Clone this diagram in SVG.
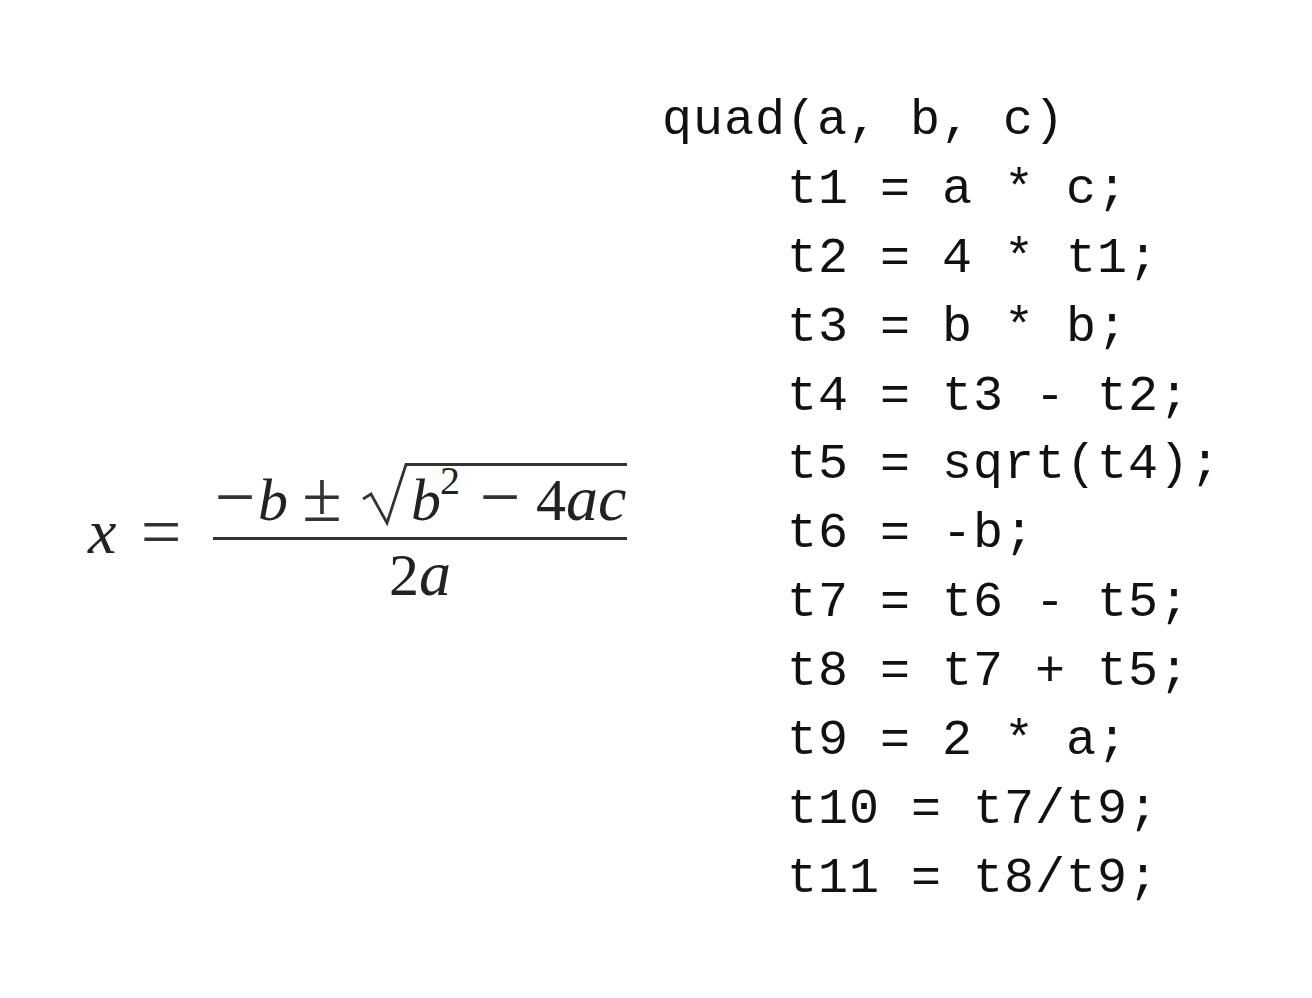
<svg xmlns="http://www.w3.org/2000/svg" width="1312" height="998" viewBox="0 0 1312 998">
<style>
.m{font-family:"Liberation Serif","DejaVu Serif",serif;font-size:60px;fill:#222}
.o{font-family:"Liberation Serif","DejaVu Serif",serif;font-size:72px;fill:#333}
.i{font-style:italic}
.c{font-family:"Liberation Mono","DejaVu Sans Mono",monospace;font-size:50px;letter-spacing:1px;fill:#111}
.r{fill:none;stroke:#333}
</style>
<rect width="1312" height="998" fill="#fff"/>
<g id="formula">
<text class="m i" x="88" y="553" style="font-size:64px">x</text>
<text class="o" x="161" y="556" text-anchor="middle">=</text>
<line class="r" x1="213" y1="538.5" x2="627" y2="538.5" stroke-width="3"/>
<text class="o" x="235" y="521" text-anchor="middle">−</text>
<text class="m i" x="258" y="520">b</text>
<text class="o" x="322" y="521" text-anchor="middle">±</text>
<path class="r" d="M363 499 L371 494 L387 523 L406 464.5 L627 464.5" stroke-width="2.8" stroke-linejoin="miter"/>
<text class="m i" x="411" y="520">b</text>
<text class="m" x="440" y="494" style="font-size:40px">2</text>
<text class="o" x="500" y="521" text-anchor="middle">−</text>
<text class="m" x="536" y="520">4<tspan class="i" style="font-size:64px">ac</tspan></text>
<text class="m" x="420" y="595" text-anchor="middle">2<tspan class="i" style="font-size:64px">a</tspan></text>
</g>
<g id="code">
<text class="c" x="662" y="134">quad(a, b, c)</text>
<text class="c" x="787" y="203">t1 = a * c;</text>
<text class="c" x="787" y="272">t2 = 4 * t1;</text>
<text class="c" x="787" y="341">t3 = b * b;</text>
<text class="c" x="787" y="410">t4 = t3 - t2;</text>
<text class="c" x="787" y="478">t5 = sqrt(t4);</text>
<text class="c" x="787" y="547">t6 = -b;</text>
<text class="c" x="787" y="616">t7 = t6 - t5;</text>
<text class="c" x="787" y="685">t8 = t7 + t5;</text>
<text class="c" x="787" y="754">t9 = 2 * a;</text>
<text class="c" x="787" y="823">t10 = t7/t9;</text>
<text class="c" x="787" y="892">t11 = t8/t9;</text>
</g>
</svg>
